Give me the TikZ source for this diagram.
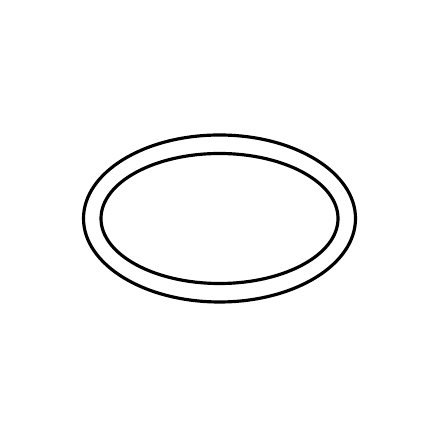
\documentclass[tikz,border=0pt]{standalone}
\usepackage{tikz}
\usetikzlibrary{positioning}

\begin{document}
\begin{tikzpicture}[x=0.01cm, y=0.01cm]
  \tikzstyle{rim}=[draw=black, line width=0.9pt]
  \useasboundingbox (0,0) rectangle (440,440);
  \coordinate (C) at (219.5,221.5);
  \draw[rim] (C) ellipse [x radius=136, y radius=83.5];
  \draw[rim] (C) ellipse [x radius=118.5, y radius=65];

\end{tikzpicture}
\end{document}
